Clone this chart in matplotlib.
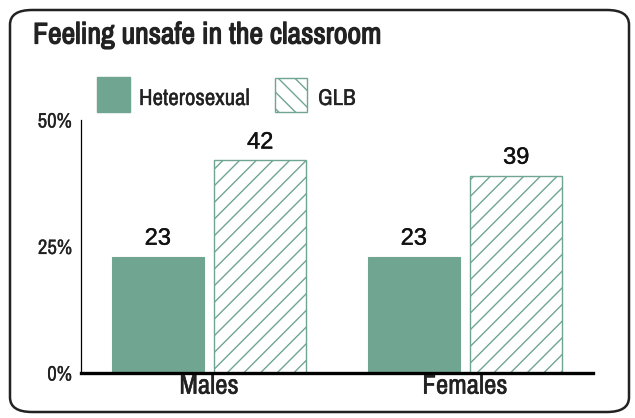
import numpy as np
import matplotlib
matplotlib.use('Agg')
import matplotlib.pyplot as plt
import matplotlib.patheffects as pe
from matplotlib.patches import FancyBboxPatch, Rectangle

plt.rcParams['font.family'] = ['Archivo Narrow', 'DejaVu Sans']
plt.rcParams['hatch.linewidth'] = 1.0

# data
groups = ['Males', 'Females']
series = ['Heterosexual', 'GLB']
hetero = [23, 23]
glb = [42, 39]
yticks = [0, 25, 50]
ytick_labels = ['0%', '25%', '50%']

green = '#70a592'
ink = '#222222'
W, H = 635, 418

# narrow font has only one weight, thicken with a stroke
def heavy(lw):
    return [pe.withStroke(linewidth=lw, foreground=ink)]

fig = plt.figure(figsize=(W / 100, H / 100), dpi=100)

def fx(px):
    return px / W

def fy(py):
    return 1 - py / H

# rounded frame
frame = FancyBboxPatch((fx(10), fy(412)), fx(619), fy(10) - fy(412),
                       boxstyle='round,pad=0,rounding_size=0.035',
                       transform=fig.transFigure, fill=False, ec=ink, lw=1.8)
fig.patches.append(frame)

fig.text(fx(33), fy(35), 'Feeling unsafe in the classroom', fontsize=21.5,
         color=ink, va='center', ha='left', path_effects=heavy(0.9))

ax = fig.add_axes([fx(81), fy(373), fx(593) - fx(81), fy(120) - fy(373)])

x = np.arange(len(groups))
w = 0.36
b1 = ax.bar(x - 0.2, hetero, w, color=green, edgecolor=green, lw=0.8, zorder=2)
b2 = ax.bar(x + 0.2, glb, w, color='white', edgecolor=green, hatch='//', lw=1.0, zorder=2)

for rects, vals in ((b1, hetero), (b2, glb)):
    for r, v in zip(rects, vals):
        ax.annotate('%d' % v, (r.get_x() + r.get_width() / 2, r.get_height()),
                    xytext=(0, 5), textcoords='offset points', ha='center', va='bottom',
                    fontsize=17, color='#111111', family=['Liberation Sans', 'DejaVu Sans'],
                    path_effects=[pe.withStroke(linewidth=0.3, foreground='#111111')])

ax.set_xlim(-0.5, 1.5)
ax.set_ylim(0, 50)
ax.set_yticks(yticks)
ax.set_yticklabels(ytick_labels, fontsize=15, color=ink)
ax.set_xticks(x)
ax.set_xticklabels(groups, fontsize=19.5, color=ink)
for t in ax.get_xticklabels():
    t.set_path_effects(heavy(0.35))
for t in ax.get_yticklabels():
    t.set_path_effects(heavy(0.15))
ax.tick_params(axis='both', length=0)
ax.tick_params(axis='y', pad=6.5)
ax.tick_params(axis='x', pad=0.5)
ax.spines['top'].set_visible(False)
ax.spines['right'].set_visible(False)
ax.spines['left'].set_linewidth(0.9)
ax.spines['bottom'].set_linewidth(2.4)
ax.spines['bottom'].set_zorder(3)

# legend drawn by hand
fig.patches.append(Rectangle((fx(97), fy(112)), fx(33), fy(77) - fy(112),
                             transform=fig.transFigure, color=green))
fig.text(fx(139), fy(99), series[0], fontsize=16.5, color=ink, va='center',
         path_effects=heavy(0.25))
fig.patches.append(Rectangle((fx(275), fy(112)), fx(32), fy(78) - fy(112),
                             transform=fig.transFigure, facecolor='white',
                             edgecolor=green, hatch='\\\\', lw=1.0))
fig.text(fx(318), fy(99), series[1], fontsize=16.5, color=ink, va='center',
         path_effects=heavy(0.25))

fig.savefig('out.png', dpi=100)
